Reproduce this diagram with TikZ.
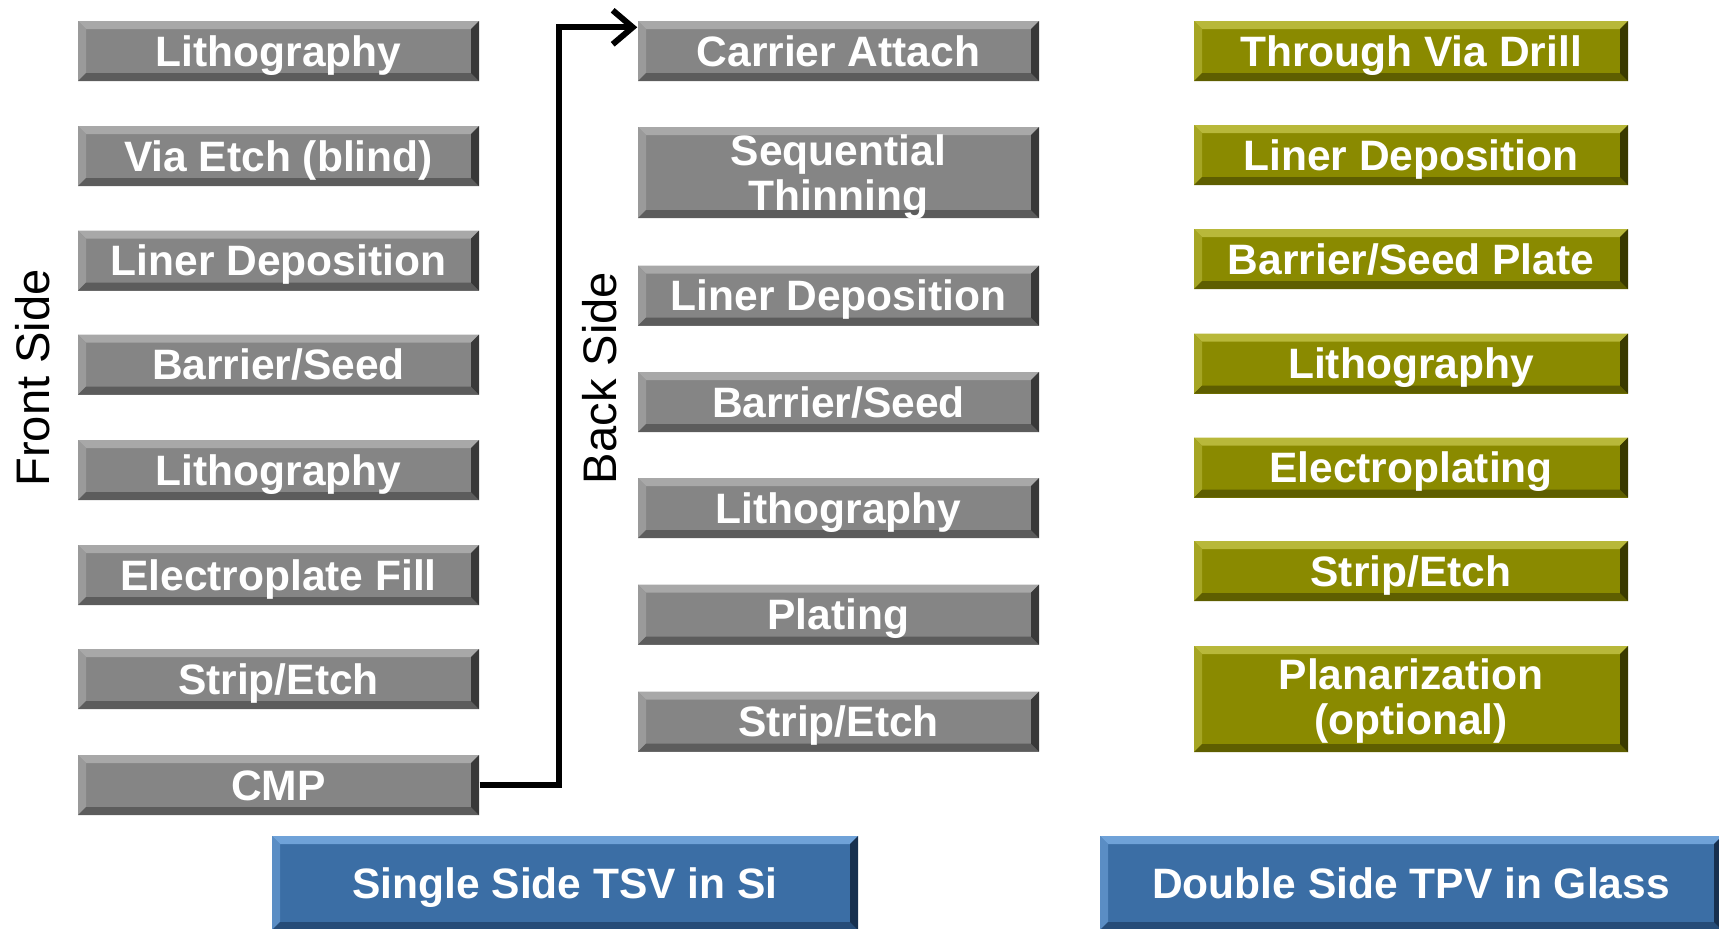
\documentclass[tikz,border=0pt]{standalone}
\usepackage{fontspec}
\setmainfont{Liberation Sans}
\usetikzlibrary{arrows.meta,positioning}

\definecolor{grayface}{HTML}{858585}
\definecolor{graylite}{HTML}{A8A8A8}
\definecolor{graydark}{HTML}{5C5C5C}
\definecolor{grayedge}{HTML}{383838}
\definecolor{oliveface}{HTML}{8A8A00}
\definecolor{olivelite}{HTML}{B8B83A}
\definecolor{olivedark}{HTML}{5E5E00}
\definecolor{oliveedge}{HTML}{3A3A00}
\definecolor{blueface}{HTML}{3B6EA5}
\definecolor{bluelite}{HTML}{6FA2D8}
\definecolor{bluedark}{HTML}{264C78}
\definecolor{blueedge}{HTML}{17304F}

\tikzset{
  bevel/.style n args={4}{fill=#1, path picture={
    \coordinate (nw) at (path picture bounding box.north west);
    \coordinate (ne) at (path picture bounding box.north east);
    \coordinate (sw) at (path picture bounding box.south west);
    \coordinate (se) at (path picture bounding box.south east);
    \fill[#2] (nw) -- (ne) -- ([shift={(-0.08,-0.08)}]ne) -- ([shift={(0.08,-0.08)}]nw) -- cycle;
    \fill[#2!60!#1] (nw) -- (sw) -- ([shift={(0.08,0.08)}]sw) -- ([shift={(0.08,-0.08)}]nw) -- cycle;
    \fill[#3] (sw) -- (se) -- ([shift={(-0.08,0.08)}]se) -- ([shift={(0.08,0.08)}]sw) -- cycle;
    \fill[#4] (ne) -- (se) -- ([shift={(-0.08,0.08)}]se) -- ([shift={(-0.08,-0.08)}]ne) -- cycle;
  }}
}

\begin{document}
\begin{tikzpicture}[x=1cm, y=1cm, >={Straight Barb[length=2mm,width=3.4mm]},
  proc/.style={bevel={grayface}{graylite}{graydark}{grayedge}, align=center,
               minimum width=4.01cm, minimum height=6mm, inner sep=0pt,
               text height=9.16pt, text depth=0.5pt,
               text=white, font=\fontsize{12.1}{12.8}\selectfont\bfseries},
  glass/.style={bevel={oliveface}{olivelite}{olivedark}{oliveedge}, align=center,
                minimum width=4.34cm, minimum height=6mm, inner sep=0pt,
                text height=9.16pt, text depth=0.5pt,
                text=white, font=\fontsize{12.1}{12.8}\selectfont\bfseries},
  title/.style={bevel={blueface}{bluelite}{bluedark}{blueedge}, align=center,
                minimum height=9.4mm, inner sep=0pt,
                text height=9.16pt, text depth=0.5pt,
                text=white, font=\fontsize{12.1}{12.8}\selectfont\bfseries},
  side/.style={rotate=90, font=\fontsize{13.4}{14}\selectfont}]

\useasboundingbox (0,0) rectangle (17.19,-9.29);

% Front Side (Si)
\node[side] (front) at (0.33,-3.78) {Front Side};
\node[proc] (litho1) at (2.785,-0.51) {Lithography};
\node[proc] (via)    at (2.785,-1.56) {Via Etch (blind)};
\node[proc] (liner1) at (2.785,-2.605) {Liner Deposition};
\node[proc] (seed1)  at (2.785,-3.645) {Barrier/Seed};
\node[proc] (litho2) at (2.785,-4.70) {Lithography};
\node[proc] (fill)   at (2.785,-5.75) {Electroplate Fill};
\node[proc] (strip1) at (2.785,-6.79) {Strip/Etch};
\node[proc] (cmp)    at (2.785,-7.85) {CMP};

% Back Side (Si)
\node[side] (back) at (6.00,-3.78) {Back Side};
\node[proc] (carrier) at (8.385,-0.51) {Carrier Attach};
\node[proc, minimum height=9.1mm, text height={}, text depth=0pt] (thin) at (8.385,-1.725) {Sequential\\Thinning};
\node[proc] (liner2) at (8.385,-2.955) {Liner Deposition};
\node[proc] (seed2)  at (8.385,-4.02) {Barrier/Seed};
\node[proc] (litho3) at (8.385,-5.08) {Lithography};
\node[proc] (plate)  at (8.385,-6.145) {Plating};
\node[proc] (strip2) at (8.385,-7.215) {Strip/Etch};

% Glass
\node[glass] (drill)  at (14.11,-0.51) {Through Via Drill};
\node[glass] (liner3) at (14.11,-1.55) {Liner Deposition};
\node[glass] (seed3)  at (14.11,-2.59) {Barrier/Seed Plate};
\node[glass] (litho4) at (14.11,-3.635) {Lithography};
\node[glass] (eplate) at (14.11,-4.675) {Electroplating};
\node[glass] (strip3) at (14.11,-5.71) {Strip/Etch};
\node[glass, minimum height=10.6mm, text height={}, text depth=1.3pt] (planar) at (14.11,-6.99) {Planarization\\(optional)};

% Titel
\node[title, minimum width=5.86cm] (tsv) at (5.65,-8.83) {Single Side TSV in Si};
\node[title, minimum width=6.22cm] (tpv) at (14.11,-8.83) {Double Side TPV in Glass};

\draw[->, line width=1.7pt] (cmp.east) -- ++(0.79,0) |- ([yshift=-0.07cm]carrier.north west);
\end{tikzpicture}
\end{document}
